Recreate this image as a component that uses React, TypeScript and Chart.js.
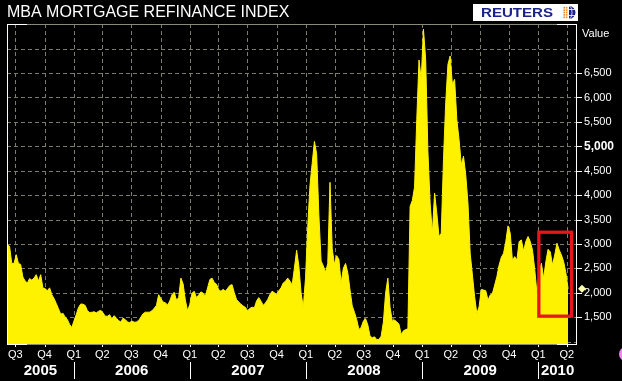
import React, { useEffect, useRef } from 'react';
import { Chart, registerables } from 'chart.js';

Chart.register(...registerables);

const TITLE = 'MBA MORTGAGE REFINANCE INDEX';
const AXIS_TITLE = 'Value';
const SOURCE = 'REUTERS';

// weekly series, first week below, 7 days apart
const FIRST_WEEK = '2005-06-06';
const refinanceIndex = [
  2990, 2950, 2600, 2600, 2780, 2600, 2580, 2320, 2240, 2200,
  2290, 2260, 2300, 2370, 2240, 2370, 2095, 2086, 2040, 2100,
  1960, 1880, 1780, 1670, 1560, 1580, 1500, 1450, 1350, 1290,
  1430, 1554, 1700, 1770, 1765, 1740, 1630, 1595, 1600, 1610,
  1588, 1620, 1640, 1588, 1520, 1520, 1550, 1460, 1530, 1480,
  1430, 1400, 1480, 1450, 1400, 1390, 1420, 1397, 1400, 1430,
  1500, 1570, 1600, 1602, 1602, 1630, 1680, 1740, 1960, 1880,
  1810, 1793, 1750, 1830, 1960, 2010, 1850, 1900, 2300, 2180,
  1850, 1630, 1760, 1990, 2030, 1900, 1955, 2018, 1990, 1930,
  2100, 2270, 2300, 2210, 2175, 2060, 2030, 2070, 2032, 2090,
  2150, 2165, 2000, 1861, 1810, 1765, 1730, 1700, 1630, 1680,
  1704, 1691, 1830, 1900, 1827, 1745, 1790, 1861, 1960, 2032,
  2000, 1963, 2040, 2100, 2200, 2236, 2300, 2240, 2160, 2500,
  2870, 2550, 2000, 1700, 2300, 3350, 4200, 4650, 5100, 4850,
  3600, 2650, 2550, 2420, 2600, 4262, 2900, 2580, 2760, 2680,
  2200, 2500, 2600, 2407, 2060, 1730, 1600, 1450, 1247, 1290,
  1418, 1470, 1340, 1111, 1077, 1097, 1043, 1043, 1111, 1400,
  1997, 2300, 1700, 1418, 1440, 1404, 1356, 1144, 1219, 1246,
  1260, 3767, 3890, 4165, 5548, 6768, 6370, 7400, 6780, 4900,
  3836, 3219, 4041, 3630, 3150, 3219, 4726, 5890, 6678, 6850,
  6267, 6370, 5548, 5137, 4623, 4795, 4418, 3836, 2808, 2363,
  1918, 1575, 1712, 2068, 2055, 2041, 1849, 1952, 1986, 2157,
  2329, 2568, 2726, 2808, 3048, 3370, 3219, 2658, 2740, 2671,
  3048, 3082, 2856, 3048, 3151, 3048, 2877, 2479, 1986, 2431,
  2603, 2295, 2637, 2890, 2836, 2568, 2774, 3014, 2877, 2774,
  2637, 2411, 2080,
];

const X_MIN = '2005-06-05';
const X_MAX = '2010-05-03';

const quarterStarts = [
  '2005-07-01', '2005-10-01',
  '2006-01-01', '2006-04-01', '2006-07-01', '2006-10-01',
  '2007-01-01', '2007-04-01', '2007-07-01', '2007-10-01',
  '2008-01-01', '2008-04-01', '2008-07-01', '2008-10-01',
  '2009-01-01', '2009-04-01', '2009-07-01', '2009-10-01',
  '2010-01-01', '2010-04-01',
];
const quarterLabels = [
  'Q3', 'Q4',
  'Q1', 'Q2', 'Q3', 'Q4',
  'Q1', 'Q2', 'Q3', 'Q4',
  'Q1', 'Q2', 'Q3', 'Q4',
  'Q1', 'Q2', 'Q3', 'Q4',
  'Q1', 'Q2',
];
const yearStarts = ['2005-01-01', '2006-01-01', '2007-01-01', '2008-01-01', '2009-01-01', '2010-01-01', '2011-01-01'];
const yearLabels = ['2005', '2006', '2007', '2008', '2009', '2010'];

const Y_MIN = 950;
const Y_MAX = 7505;
const yTicks = [1000, 1500, 2000, 2500, 3000, 3500, 4000, 4500, 5000, 5500, 6000, 6500, 7000, 7500];
const yLabeled = [1500, 2000, 2500, 3000, 3500, 4000, 4500, 5000, 5500, 6000, 6500];
const yEmphasised = 5000;

const highlightDates = ['2010-01-03', '2010-04-16'];
const highlightValues = [1520, 3240];

const day = (s: string) => Date.parse(s + 'T00:00:00Z') / 86400000;

const FONT = "'Liberation Sans', Arial, sans-serif";
const NARROW = "'Liberation Sans Narrow', 'Liberation Sans', Arial, sans-serif";
const GRID = '#7d7d6b';
const YELLOW = '#fff200';

const seg = (ctx: CanvasRenderingContext2D, x1: number, y1: number, x2: number, y2: number) => {
  ctx.beginPath();
  ctx.moveTo(x1, y1);
  ctx.lineTo(x2, y2);
  ctx.stroke();
};

const decoPlugin = {
  id: 'deco',
  beforeDraw(chart: any) {
    const { ctx, width, height } = chart;
    ctx.save();
    ctx.fillStyle = '#000';
    ctx.fillRect(0, 0, width, height);
    ctx.restore();
  },
  beforeDatasetsDraw(chart: any) {
    const { ctx, chartArea: a, scales } = chart;
    const xs = scales.x;
    const ys = scales.y;
    ctx.save();
    ctx.strokeStyle = GRID;
    ctx.lineWidth = 1;
    ctx.setLineDash([4, 3]);
    for (const v of yTicks) {
      const py = Math.round(ys.getPixelForValue(v)) + 0.5;
      if (py < a.top + 1 || py > a.bottom - 1) continue;
      seg(ctx, a.left, py, a.right, py);
    }
    for (const q of quarterStarts) {
      const px = Math.round(xs.getPixelForValue(day(q))) + 0.5;
      if (px < a.left + 1 || px > a.right - 1) continue;
      seg(ctx, px, a.top, px, a.bottom);
    }
    ctx.restore();
  },
  afterDraw(chart: any) {
    const { ctx, chartArea: a, scales } = chart;
    const xs = scales.x;
    const ys = scales.y;
    ctx.save();
    ctx.setLineDash([]);
    // frame
    ctx.lineWidth = 1;
    ctx.strokeStyle = '#8a8a7a';
    seg(ctx, a.left, a.top + 0.5, a.right, a.top + 0.5);
    seg(ctx, a.left, a.bottom + 0.5, a.right, a.bottom + 0.5);
    ctx.strokeStyle = '#ffffff';
    seg(ctx, a.left + 0.5, a.top, a.left + 0.5, a.bottom + 1);
    seg(ctx, a.right - 0.5, a.top, a.right - 0.5, a.bottom + 1);
    seg(ctx, a.left, a.top + 0.5, a.left + 20, a.top + 0.5);
    seg(ctx, a.left, a.bottom + 0.5, a.left + 20, a.bottom + 0.5);
    seg(ctx, a.right - 20, a.top + 0.5, a.right, a.top + 0.5);
    seg(ctx, a.right - 20, a.bottom + 0.5, a.right, a.bottom + 0.5);

    // tick marks
    for (const q of quarterStarts) {
      const px = Math.round(xs.getPixelForValue(day(q))) + 0.5;
      seg(ctx, px, a.bottom + 1, px, a.bottom + 3);
    }
    for (const v of yLabeled) {
      const py = Math.round(ys.getPixelForValue(v)) + 0.5;
      seg(ctx, a.right, py, a.right + 5, py);
    }

    // highlight box
    ctx.strokeStyle = '#e8141e';
    ctx.lineWidth = 3.3;
    const bx1 = xs.getPixelForValue(day(highlightDates[0]));
    const bx2 = xs.getPixelForValue(day(highlightDates[1]));
    const by1 = ys.getPixelForValue(highlightValues[1]);
    const by2 = ys.getPixelForValue(highlightValues[0]);
    ctx.strokeRect(bx1, by1, bx2 - bx1, by2 - by1);

    // year row
    ctx.lineWidth = 1;
    ctx.strokeStyle = '#ffffff';
    ctx.fillStyle = '#ffffff';
    ctx.font = `bold 15px ${NARROW}`;
    ctx.textAlign = 'center';
    ctx.textBaseline = 'middle';
    for (let i = 0; i < yearLabels.length; i++) {
      const s = xs.getPixelForValue(day(yearStarts[i]));
      const e = xs.getPixelForValue(day(yearStarts[i + 1]));
      const l = Math.max(s, a.left);
      const r = Math.min(e, a.right);
      if (s > a.left && s < a.right) {
        const px = Math.round(s) + 0.5;
        seg(ctx, px, a.bottom + 18, px, a.bottom + 35);
      }
      ctx.fillText(yearLabels[i], (l + r) / 2, a.bottom + 27);
    }

    // last value marker
    const last = refinanceIndex[refinanceIndex.length - 1];
    const dy = ys.getPixelForValue(last);
    const dx = a.right + 5;
    ctx.fillStyle = '#ffffb0';
    ctx.beginPath();
    ctx.moveTo(dx, dy - 4);
    ctx.lineTo(dx + 4, dy);
    ctx.lineTo(dx, dy + 4);
    ctx.lineTo(dx - 4, dy);
    ctx.closePath();
    ctx.fill();

    // title
    ctx.fillStyle = '#ffffff';
    ctx.textAlign = 'left';
    ctx.textBaseline = 'alphabetic';
    ctx.font = `16px ${FONT}`;
    ctx.fillText(TITLE, 7, 17);

    // axis title
    ctx.font = `11px ${FONT}`;
    ctx.fillText(AXIS_TITLE, a.right + 5, 37);

    // source logo
    ctx.fillStyle = '#ffffff';
    ctx.fillRect(473, 4, 105, 17);
    ctx.fillStyle = '#1b228c';
    ctx.font = `bold 13px ${FONT}`;
    ctx.save();
    ctx.translate(481, 17);
    ctx.scale(1.16, 1);
    ctx.fillText(SOURCE, 0, 0);
    ctx.restore();
    // globe
    const gx = 569, gy = 12.5;
    ctx.fillStyle = '#1b228c';
    ctx.beginPath();
    ctx.arc(gx, gy, 6.5, -Math.PI / 2, Math.PI / 2);
    ctx.fill();
    ctx.strokeStyle = '#ffffff';
    ctx.lineWidth = 0.8;
    ctx.beginPath();
    ctx.ellipse(gx, gy, 3, 6.5, 0, -Math.PI / 2, Math.PI / 2);
    ctx.stroke();
    seg(ctx, gx, gy - 3, gx + 6.5, gy - 3);
    seg(ctx, gx, gy + 3, gx + 6.5, gy + 3);
    ctx.fillStyle = '#f08a1c';
    for (let r = -2; r <= 2; r++) {
      for (let c = 1; c <= 3; c++) {
        const px = gx - c * 2.4;
        const py = gy + r * 2.4;
        if ((px - gx) ** 2 + (py - gy) ** 2 <= 49) {
          ctx.fillRect(px - 0.8, py - 0.8, 1.6, 1.6);
        }
      }
    }

    // corner dot
    ctx.fillStyle = '#ee88ee';
    ctx.beginPath();
    ctx.arc(626, 354, 7, 0, Math.PI * 2);
    ctx.fill();
    ctx.restore();
  },
};

export default function App() {
  const ref = useRef<HTMLCanvasElement | null>(null);
  useEffect(() => {
    if (!ref.current) return;
    const start = day(FIRST_WEEK);
    const points = refinanceIndex.map((v, i) => ({ x: start + 7 * i, y: v }));
    const chart = new Chart(ref.current, {
      type: 'line',
      data: {
        datasets: [
          {
            data: points,
            borderColor: YELLOW,
            backgroundColor: YELLOW,
            borderWidth: 1,
            pointRadius: 0,
            tension: 0,
            fill: 'start',
          },
        ],
      },
      options: {
        animation: false,
        responsive: false,
        maintainAspectRatio: false,
        events: [],
        layout: { padding: { left: 7, top: 24, right: 0, bottom: 0 } },
        plugins: { legend: { display: false }, tooltip: { enabled: false } },
        scales: {
          x: {
            type: 'linear',
            min: day(X_MIN),
            max: day(X_MAX),
            afterBuildTicks: (s: any) => {
              s.ticks = quarterStarts.map((q) => ({ value: day(q) }));
            },
            afterFit: (s: any) => {
              s.height = 37;
            },
            ticks: {
              autoSkip: false,
              maxRotation: 0,
              color: '#ffffff',
              padding: -4,
              font: { family: FONT, size: 11 },
              callback: (_v: any, i: number) => quarterLabels[i],
            },
            grid: { display: false },
            border: { display: false },
          },
          y: {
            position: 'right',
            min: Y_MIN,
            max: Y_MAX,
            afterBuildTicks: (s: any) => {
              s.ticks = yTicks.map((v) => ({ value: v }));
            },
            afterFit: (s: any) => {
              s.width = 45;
            },
            ticks: {
              color: '#ffffff',
              padding: -1,
              font: (c: any) =>
                c.tick && c.tick.value === yEmphasised
                  ? { family: FONT, size: 12, weight: 'bold' }
                  : { family: FONT, size: 11 },
              callback: (v: any) => (yLabeled.includes(v) ? Number(v).toLocaleString('en-US') : ''),
            },
            grid: { display: false },
            border: { display: false },
          },
        },
      },
      plugins: [decoPlugin],
    } as any);
    return () => chart.destroy();
  }, []);
  return (
    <div style={{ position: 'fixed', left: 0, top: 0, width: 622, height: 381, background: '#000' }}>
      <canvas ref={ref} width={622} height={381} style={{ display: 'block', width: 622, height: 381 }} />
    </div>
  );
}
